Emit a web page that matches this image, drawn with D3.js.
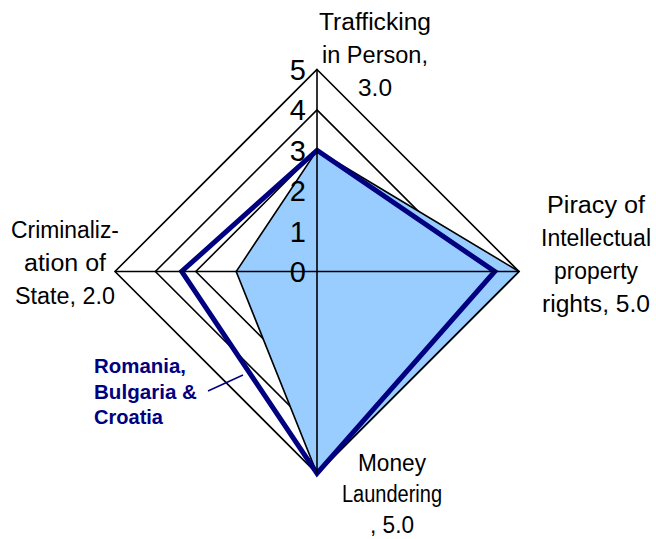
<!DOCTYPE html>
<html>
<head>
<meta charset="utf-8">
<script src="https://cdn.jsdelivr.net/npm/d3@7"></script>
<style>
  html, body { margin: 0; padding: 0; background: #fff; }
  svg { display: block; }
  text { font-family: "Liberation Sans", Arial, sans-serif; }
</style>
</head>
<body>
<svg id="chart" width="656" height="539"></svg>
<script>
// Data
const categories = ["Trafficking in Person", "Piracy of Intellectual property rights", "Money Laundering", "Criminalization of State"];
const categoryLabelLines = [
  ["Trafficking", "in Person,", "3.0"],
  ["Piracy of", "Intellectual", "property", "rights, 5.0"],
  ["Money", "Laundering", ", 5.0"],
  ["Criminaliz-", "ation of", "State, 2.0"]
];
const overallValues = [3.0, 5.0, 5.0, 2.0];
const regionName = ["Romania,", "Bulgaria &", "Croatia"];
const regionValues = [3.0, 4.4, 5.0, 3.35];
const tickValues = [0, 1, 2, 3, 4, 5];

// Layout (positions / sizes only)
const labelPos = [
  { x: 375, y: 30, lh: 33 },
  { x: 596, y: 213, lh: 33 },
  { x: 392, y: 471, lh: 31 },
  { x: 65, y: 238, lh: 33 }
];
const labelWidths = [
  [112, 106, 34],
  [98, 110, 84, 108],
  [68, 100, 44],
  [108, 82, 100]
];
const regionWidths = [92, 103, 69];

const svg = d3.select("#chart");
const cx = 317, cy = 271.5;
const r = d3.scaleLinear().domain([0, 5]).range([0, 202]);
const angle = d3.scalePoint().domain(d3.range(categories.length)).range([0, 2 * Math.PI * (categories.length - 1) / categories.length]);

function pt(i, v) {
  const a = angle(i);
  return [cx + r(v) * Math.sin(a), cy - r(v) * Math.cos(a)];
}
const line = d3.line().curve(d3.curveLinearClosed);

// gridlines
svg.append("g").selectAll("path").data(tickValues.filter(d => d > 0)).join("path")
  .attr("d", v => line(categories.map((c, i) => pt(i, v))))
  .attr("fill", "none").attr("stroke", "#000").attr("stroke-width", 1.6);

// filled series
svg.append("path")
  .attr("d", line(overallValues.map((v, i) => pt(i, v))))
  .attr("fill", "#99CCFF").attr("stroke", "#000").attr("stroke-width", 1.6)
  .attr("stroke-linejoin", "miter");

// region series line
svg.append("path")
  .attr("d", line(regionValues.map((v, i) => pt(i, v))))
  .attr("fill", "none").attr("stroke", "#000080").attr("stroke-width", 5)
  .attr("stroke-linejoin", "miter");

// axes
svg.append("g").selectAll("line").data(categories).join("line")
  .attr("x1", (d, i) => pt(i, 0)[0]).attr("y1", (d, i) => pt(i, 0)[1])
  .attr("x2", (d, i) => pt(i, 5)[0]).attr("y2", (d, i) => pt(i, 5)[1])
  .attr("stroke", "#000").attr("stroke-width", 1.6);

// tick labels
svg.append("g").selectAll("text").data(tickValues).join("text")
  .attr("x", cx - 11).attr("y", v => cy - r(v) + 10.5)
  .attr("text-anchor", "end").attr("font-size", 29).attr("fill", "#000")
  .text(d => d);

// category labels
const lg = svg.append("g");
categoryLabelLines.forEach((lines, i) => {
  lines.forEach((s, j) => {
    const w = labelWidths[i][j];
    lg.append("text")
      .attr("x", labelPos[i].x - w / 2).attr("y", labelPos[i].y + j * labelPos[i].lh)
      .attr("font-size", 23).attr("fill", "#000")
      .attr("textLength", w).attr("lengthAdjust", "spacingAndGlyphs")
      .text(s);
  });
});

// series label
regionName.forEach((s, j) => {
  svg.append("text")
    .attr("x", 94).attr("y", 373 + j * 25.5)
    .attr("font-size", 19.5).attr("font-weight", "bold").attr("fill", "#000080")
    .attr("textLength", regionWidths[j]).attr("lengthAdjust", "spacingAndGlyphs")
    .text(s);
});
svg.append("line").attr("x1", 208).attr("y1", 391).attr("x2", 243).attr("y2", 375)
  .attr("stroke", "#000080").attr("stroke-width", 1.5);
</script>
</body>
</html>
